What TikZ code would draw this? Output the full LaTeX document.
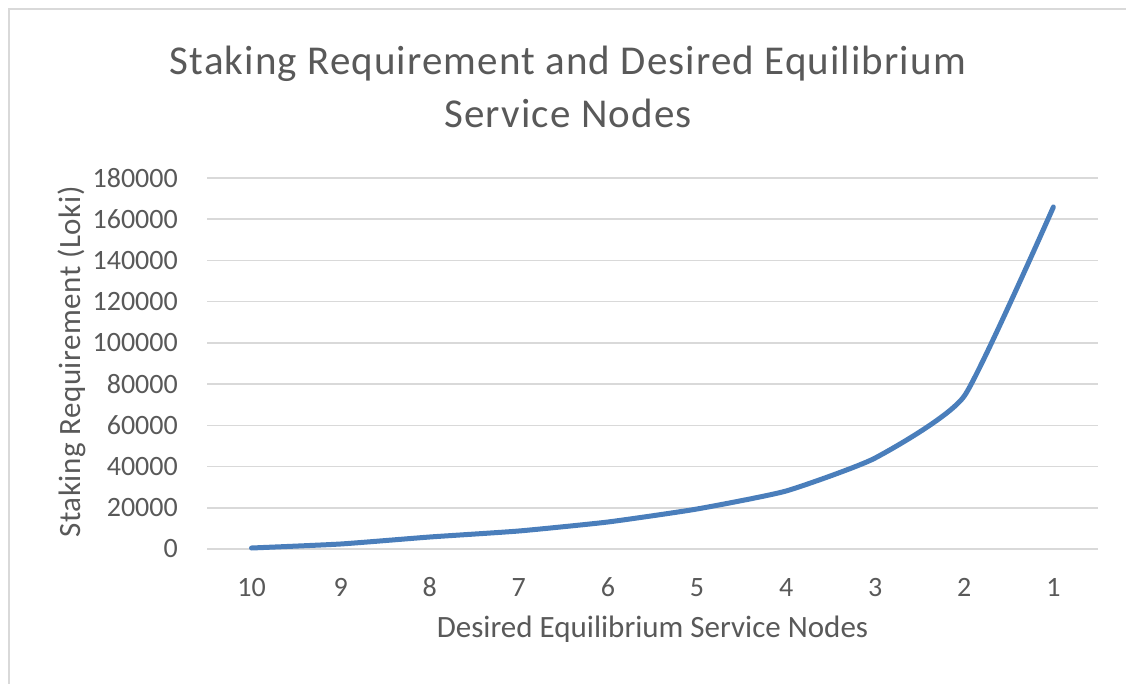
\documentclass[tikz,border=0pt]{standalone}
\usepackage{fontspec}
\setmainfont{Carlito}
\definecolor{txt}{HTML}{595959}
\definecolor{grid}{HTML}{D9D9D9}
\definecolor{frame}{HTML}{D9D9D9}
\definecolor{series}{HTML}{4A7EBB}
\begin{document}
\begin{tikzpicture}[x=1pt,y=-1pt,
  titlefont/.style={font=\fontsize{41}{48}\selectfont\addfontfeatures{LetterSpace=2.7}, text=txt, inner sep=0pt},
  axtitle/.style={font=\fontsize{31}{36}\selectfont, text=txt, inner sep=0pt},
  ytitlefont/.style={font=\fontsize{31}{36}\selectfont\addfontfeatures{LetterSpace=1.8}, text=txt, inner sep=0pt},
  ticklab/.style={font=\fontsize{28}{34}\selectfont, text=txt, inner sep=0pt},
  gridline/.style={draw=grid, line width=1.6pt},
  seriesline/.style={draw=series, line width=5pt, line cap=round, line join=round}]
\useasboundingbox[fill=white] (0,0) rectangle (1126,684);
% chart frame (left and top visible)
\coordinate (fbl) at (8.5,684);
\coordinate (ftl) at (8.5,9.5);
\coordinate (ftr) at (1126,9.5);
\draw[draw=frame, line width=2pt] (fbl) -- (ftl) -- (ftr);
% title
\node[titlefont, anchor=base] (title1) at (568,75) {Staking Requirement and Desired Equilibrium};
\node[titlefont, anchor=base] (title2) at (568,128) {Service Nodes};
% gridlines and y tick labels
\foreach \val [count=\i from 0] in {0,20000,40000,60000,80000,100000,120000,140000,160000,180000}{
  \pgfmathsetmacro{\yy}{549-\i*41.22}
  \coordinate (gl\i) at (207,\yy);
  \coordinate (gr\i) at (1098,\yy);
  \draw[gridline] (gl\i) -- (gr\i);
  \node[ticklab, anchor=east] (yt\i) at (178,\yy) {\val};
}
% x tick labels
\foreach \c [count=\k from 0] in {10,9,8,7,6,5,4,3,2,1}{
  \node[ticklab, anchor=base] (xt\c) at ({251.5+\k*89.1},596) {\c};
}
% axis titles
\node[axtitle, anchor=base] (xtitle) at (652.5,637) {Desired Equilibrium Service Nodes};
\node[ytitlefont, rotate=90] (ytitle) at (72,362) {Staking Requirement (Loki)};
% series
\coordinate (p10) at (251.5,548);
\coordinate (p9) at (340.6,544);
\coordinate (p8) at (429.7,537);
\coordinate (p7) at (518.8,531);
\coordinate (p6) at (607.9,522);
\coordinate (p5) at (697.0,509);
\coordinate (p4) at (786.1,491);
\coordinate (p3) at (875.2,458);
\coordinate (p2) at (964.3,396);
\coordinate (p1) at (1053.4,207);
\draw[seriesline] plot[smooth, tension=0.3] coordinates {(p10) (p9) (p8) (p7) (p6) (p5) (p4) (p3) (p2) (p1)};
\end{tikzpicture}
\end{document}
